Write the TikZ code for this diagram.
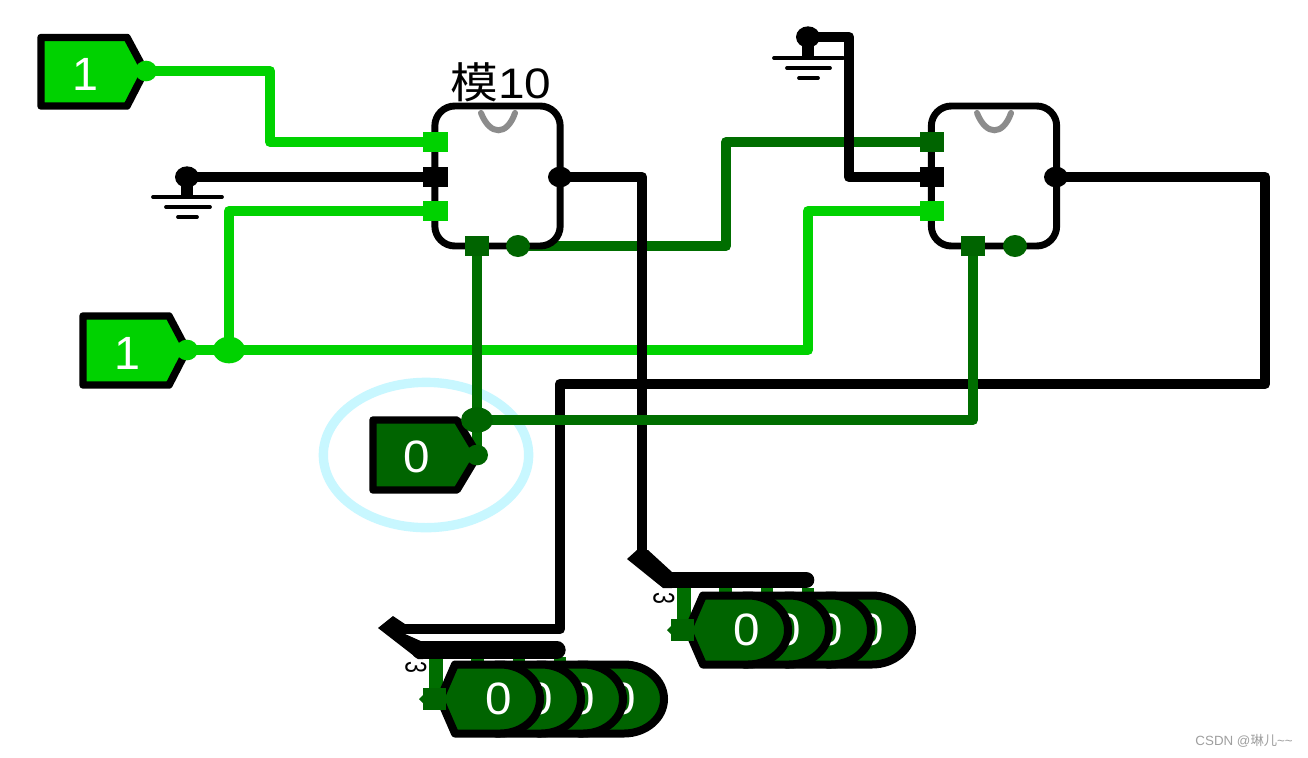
\documentclass[tikz,border=0pt]{standalone}
\usepackage{fontspec}
\setmainfont{Liberation Sans}
\newfontfamily\cjk{Noto Sans CJK SC}
\newfontfamily\lab{Liberation Sans}
\definecolor{bright}{HTML}{00D200}
\definecolor{dgreen}{HTML}{006400}
\definecolor{dwire}{HTML}{006E00}
\definecolor{halo}{HTML}{C8F7FF}
\usetikzlibrary{shapes.geometric}
\tikzset{
  x=0.75pt,y=-0.75pt,
  wire/.style={line width=7.5pt,line join=round,line cap=round},
  wbright/.style={wire,draw=bright},
  wdark/.style={wire,draw=dwire},
  wblack/.style={wire,draw=black,line width=8pt},
  pin/.style={minimum width=18.5pt,minimum height=15pt,inner sep=0pt,rectangle},
  gline/.style={line width=2.8pt,line cap=round},
  dot/.style={ellipse,inner sep=0pt,minimum width=16.5pt,minimum height=15.5pt},
  chip/.style={draw=black,line width=5.2pt,rounded corners=15pt,fill=white},
  tag/.style={draw=black,line width=5.6pt,line join=round},
  val/.style={text=white,xscale=1.05,font=\fontsize{34}{34}\selectfont,inner sep=0pt},
  one/.style={text=white,font=\fontsize{35}{35}\selectfont,inner sep=0pt},
}
% #1 name, #2 x, #3 y, #4 text offset
\newcommand{\digitcell}[4]{%
  \path[tag,line width=6pt,fill=dgreen] (#2,#3)++(15,-34.5) -- ++(45,0) arc[start angle=-90,end angle=90,x radius=40,y radius=34.5] -- ++(-45,0) -- ++(-15,-34.5) -- cycle;
  \node[val] (#1) at (#2+#4,#3) {0};
}
\newcommand{\counter}[3]{%
  \fill[dwire] (#2-11,#3-42) rectangle (#2+3,#3);
  \fill[dwire] (#2+31,#3-42) rectangle (#2+44,#3-30);
  \fill[dwire] (#2+73,#3-42) rectangle (#2+85,#3-30);
  \fill[dwire] (#2+114,#3-42) rectangle (#2+126,#3-30);
  \digitcell{#1d}{#2+124}{#3}{59}
  \digitcell{#1c}{#2+83}{#3}{59}
  \digitcell{#1b}{#2+41}{#3}{59}
  \digitcell{#1a}{#2}{#3}{59}
  \fill[dgreen] (#2-17,#3-11) rectangle (#2+6,#3+11);
  \fill[dgreen] (#2-21,#3) -- (#2-14,#3-7) -- (#2-14,#3+7) -- cycle;
  \node[xscale=1.4,rotate=-90,inner sep=0pt,font=\lab\fontsize{16}{16}\selectfont] (#1w) at (#2-24,#3-32) {3};
}
\begin{document}
\begin{tikzpicture}
\useasboundingbox (0,0) rectangle (1308,757);
\fill[white] (0,0) rectangle (1308,757);
% halo
\node[ellipse,draw=halo,line width=7pt,minimum width=154pt,minimum height=109pt,inner sep=0pt] (halo) at (426,455) {};
% coordinates
\coordinate (in1) at (146,71);
\coordinate (in2) at (187,350);
\coordinate (j2) at (229,350);
\coordinate (in3) at (477,455);
\coordinate (j3) at (477,420);
\coordinate (g1) at (187,177);
\coordinate (g2) at (808,37);
\coordinate (aA) at (435,142);
\coordinate (aB) at (435,177);
\coordinate (aC) at (435,211);
\coordinate (aK) at (477,246);
\coordinate (aE) at (518,246);
\coordinate (aQ) at (560,177);
\coordinate (bA) at (932,142);
\coordinate (bB) at (932,177);
\coordinate (bC) at (932,211);
\coordinate (bK) at (973,246);
\coordinate (bQ) at (1056,177);
\coordinate (cR) at (642,552);
\coordinate (cL) at (560,629);
% wires
\draw[wbright] (in1) -- (270,71) -- (270,142) -- (aA);
\draw[wbright] (j2) -- (229,211) -- (aC);
\draw[wbright] (in2) -- (808,350) -- (808,211) -- (bC);
\draw[wdark] (aE) -- (726,246) -- (726,142) -- (bA);
\draw[wdark] (aK) -- (in3);
\draw[wblack] (g1) -- (aB);
\draw[wblack] (g2) -- (849,37) -- (849,177) -- (bB);
\draw[wblack] (aQ) -- (642,177) -- (cR);
\draw[wblack] (bQ) -- (1265,177) -- (1265,384) -- (560,384) -- (cL) -- (405,629);
\draw[wdark] (j3) -- (973,420) -- (bK);
% chips
\node[chip,minimum width=94pt,minimum height=105pt,inner sep=0pt] (chipA) at (497.5,176) {};
\node[chip,minimum width=94pt,minimum height=105pt,inner sep=0pt] (chipB) at (994,176) {};
\draw[line width=4.5pt,draw=gray!90,line cap=round] (481,113) .. controls (490,136) and (507,136) .. (515,113);
\draw[line width=4.5pt,draw=gray!90,line cap=round] (977,113) .. controls (986,136) and (1003,136) .. (1011,113);
\node[xscale=1.12,font=\fontsize{32}{32}\selectfont,inner sep=0pt] (title) at (501,82) {{\cjk 模}{\lab 10}};
% pins
\node[pin,fill=bright] (pA1) at (435.5,142) {};
\node[pin,fill=black] (pA2) at (435.5,177) {};
\node[pin,fill=bright] (pA3) at (435.5,211) {};
\node[pin,fill=dgreen] (pA4) at (477,246) {};
\node[dot,fill=dgreen,minimum width=18pt,minimum height=16.5pt] (pA5) at (518,246) {};
\node[dot,fill=black,minimum width=18pt] (pA6) at (560,177) {};
\node[pin,fill=dgreen] (pB1) at (932,142) {};
\node[pin,fill=black] (pB2) at (932,177) {};
\node[pin,fill=bright] (pB3) at (932,211) {};
\node[pin,fill=dgreen] (pB4) at (973,246) {};
\node[dot,fill=dgreen,minimum width=18pt,minimum height=16.5pt] (pB5) at (1015,246) {};
\node[dot,fill=black,minimum width=18pt] (pB6) at (1056,177) {};
% inputs
\path[tag,fill=bright] (41,37.5) -- (127,37.5) -- (145,71) -- (127,106) -- (41,106) -- cycle;
\node[one] (v1) at (85,74) {1};
\path[tag,fill=bright] (83,316) -- (169,316) -- (187,350) -- (169,385) -- (83,385) -- cycle;
\node[one] (v2) at (127,353) {1};
\path[tag,fill=dgreen] (373,420) -- (457,420) -- (478,455) -- (457,490) -- (373,490) -- cycle;
\node[val] (v3) at (417,457) {0};
\node[dot,fill=bright] at (in1) {};
\node[dot,fill=bright] at (in2) {};
\node[dot,fill=bright,minimum width=24pt,minimum height=20pt] at (j2) {};
\node[dot,fill=dgreen] at (in3) {};
\node[dot,fill=dgreen,minimum width=24pt,minimum height=19pt] at (j3) {};
% grounds
\node[dot,fill=black,minimum width=18pt,minimum height=16pt] (gd1) at (g1) {};
\draw[line width=9pt] (g1) -- (187,197);
\draw[gline] (153,197) -- (222,197) (166,207) -- (210,207) (178,217) -- (197,217);
\node[dot,fill=black,minimum width=18pt,minimum height=16pt] (gd2) at (g2) {};
\draw[line width=9pt] (g2) -- (808,58);
\draw[gline] (774,58) -- (843,58) (787,68) -- (830,68) (799,78) -- (818,78);
% counters
\counter{L}{440}{699}
\counter{R}{688}{630}
% splitters
\fill (378,628) -- (393,616) -- (405,624) -- (405,634) -- (423,642) -- (423,659) -- (418,659) -- cycle;
\draw[line width=13pt,line cap=round] (420,650) -- (557,650);
\fill (627,559) -- (637,550) -- (648,550) -- (672,572) -- (672,588) -- (663,588) -- cycle;
\draw[line width=12.5pt,line cap=round] (668,580) -- (806,580);
\node[text=gray!75,font=\lab\fontsize{10}{10}\selectfont,inner sep=0pt,anchor=east] (csdn) at (1293,741) {CSDN @{\cjk 琳儿}\textasciitilde\textasciitilde};
\end{tikzpicture}
\end{document}
